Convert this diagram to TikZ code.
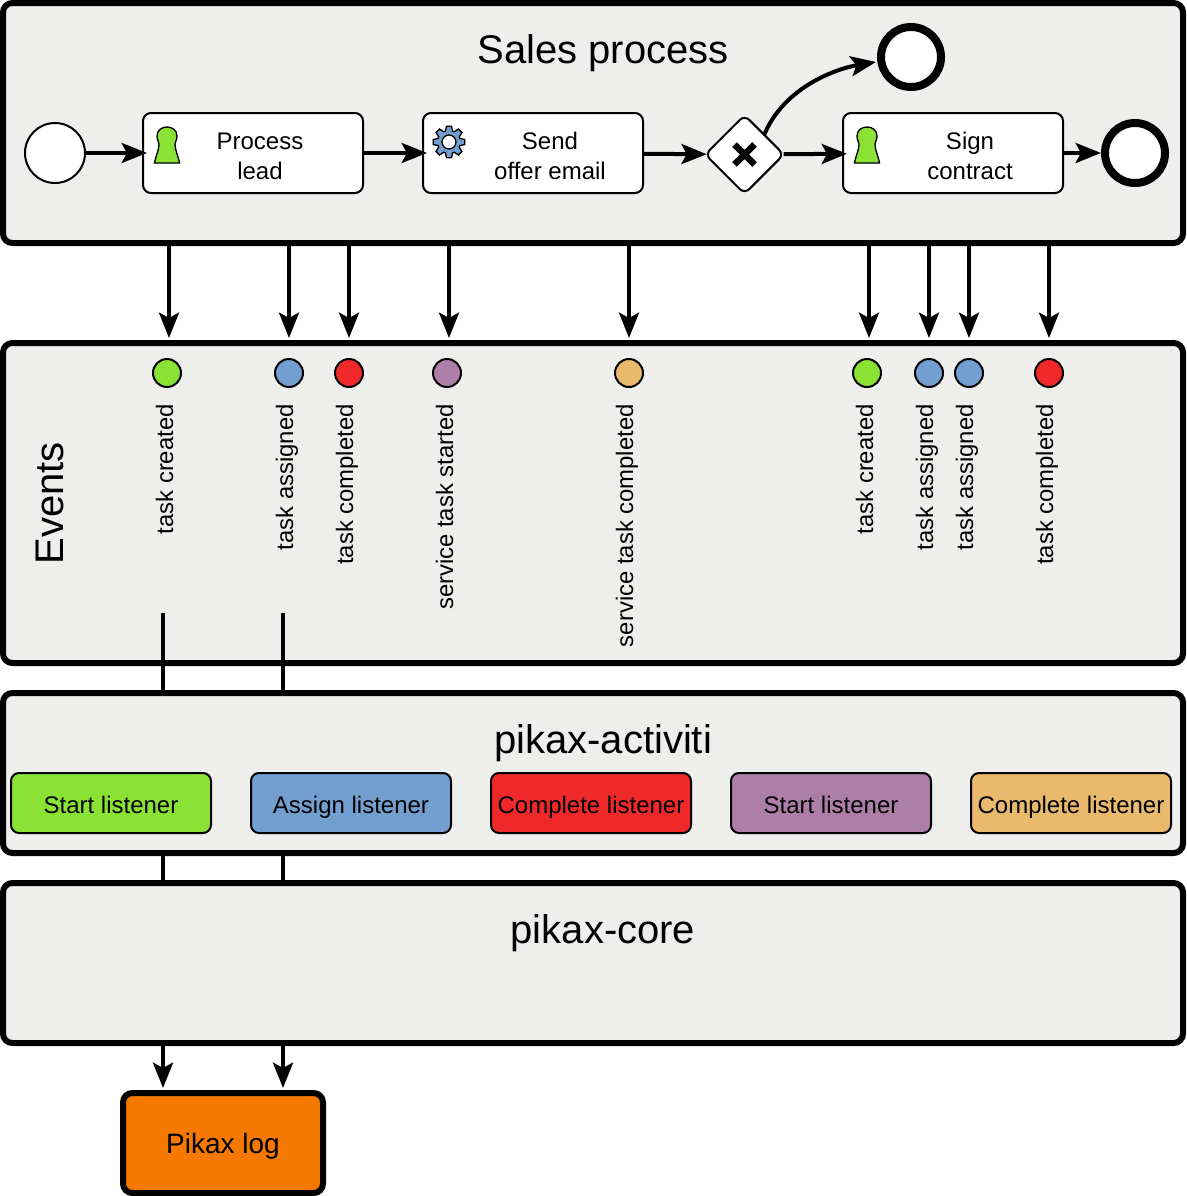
\documentclass[tikz,border=0pt]{standalone}
\usepackage{fontspec}
\setmainfont{Liberation Sans}
\usetikzlibrary{positioning}
\usetikzlibrary{arrows.meta}
\usetikzlibrary{shapes.geometric}

\definecolor{panelgrey}{HTML}{EEEEEC}
\definecolor{evgreen}{HTML}{8AE234}
\definecolor{evblue}{HTML}{729FCF}
\definecolor{evred}{HTML}{EF2929}
\definecolor{evpurple}{HTML}{AD7FA8}
\definecolor{evorange}{HTML}{E9B96E}
\definecolor{logorange}{HTML}{F57900}

\tikzset{
    panel/.style={draw=black, fill=panelgrey, line width=4.5pt, rounded corners=7pt,
        minimum width=885pt, inner sep=0pt},
    title/.style={font=\fontsize{30}{36}\selectfont, inner sep=0pt},
    tasknode/.style={draw=black, fill=white, line width=1.5pt, rounded corners=6pt,
        minimum width=165pt, minimum height=60pt, inner sep=0pt, outer sep=0pt},
    tasklabel/.style={align=center, font=\fontsize{18}{22.5}\selectfont, inner sep=0pt},
    startev/.style={circle, draw=black, fill=white, line width=1.5pt,
        minimum size=45pt, inner sep=0pt},
    endev/.style={circle, draw=black, fill=white, line width=6pt,
        minimum size=45pt, inner sep=0pt},
    gateway/.style={diamond, aspect=1, draw=black, fill=white, line width=1.5pt,
        rounded corners=5pt, minimum size=59pt, inner sep=0pt, outer sep=0pt},
    evdot/.style={circle, draw=black, line width=1.5pt, minimum size=21pt, inner sep=0pt},
    evlabel/.style={rotate=90, anchor=base east, font=\fontsize{17.9}{22}\selectfont, inner sep=0pt},
    listener/.style={draw=black, line width=1.5pt, rounded corners=6pt, minimum width=150pt,
        minimum height=45pt, inner sep=0pt, text height=16pt, text depth=1pt,
        font=\fontsize{18}{22}\selectfont},
    flow/.style={line width=3pt, -{Stealth[length=19pt, width=15pt, inset=4pt]}},
    wire/.style={line width=3pt},
    usericon/.pic={
        \draw[fill=evgreen, line width=1pt] (-12.5,36) .. controls (-11,28) and (-8,23) .. (-8,17)
            .. controls (-8,15) and (-10,13) .. (-10,9)
            .. controls (-10,3) and (-5,0) .. (0,0)
            .. controls (5,0) and (10,3) .. (10,9)
            .. controls (10,13) and (8,15) .. (8,17)
            .. controls (8,23) and (11,28) .. (12.5,36) -- cycle;
    },
    gearicon/.pic={
        \draw[fill=evblue, line width=1pt] (-18:11.5)
            \foreach \a in {0,45,...,315} { -- (\a-18:11.5) -- (\a-9:16) -- (\a+9:16) -- (\a+18:11.5) } -- cycle;
        \draw[fill=white, line width=1pt] (0,0) circle [radius=7];
    }
}

\begin{document}
\begin{tikzpicture}[x=0.75pt, y=-0.75pt]
    \useasboundingbox (0,0) rectangle (1186,1196);

    \node[panel, minimum height=180pt] (sales) at (593,123) {};
    \node[panel, minimum height=240pt] (events) at (593,503) {};
    \node[panel, minimum height=120pt] (activiti) at (593,773) {};
    \node[panel, minimum height=120pt] (core) at (593,963) {};

    \node[title] (salestitle) at (603,53) {Sales process};
    \node[title, rotate=90] (eventstitle) at (50,503.5) {Events};
    \node[title] (activititle) at (603,743) {pikax-activiti};
    \node[title] (coretitle) at (603,933) {pikax-core};

    \node[startev] (start) at (55,153) {};
    \node[tasknode] (lead) at (253,153) {};
    \node[tasklabel] (leadlabel) at (260,156) {Process\\lead};
    \node[tasknode] (offer) at (533,153) {};
    \node[tasklabel] (offerlabel) at (550,156) {Send\\offer email};
    \node[gateway] (gw) at (744.5,154.5) {};
    \node[tasknode] (sign) at (953,153) {};
    \node[tasklabel] (signlabel) at (970,156) {Sign\\contract};
    \node[endev] (endtop) at (911,57) {};
    \node[endev] (endright) at (1135,153) {};

    \pic at (167,127) {usericon};
    \pic at (449,142) {gearicon};
    \pic at (867,127) {usericon};
    \draw[line width=5pt] (gw) ++(-10,-10) -- ++(20,20) (gw) ++(10,-10) -- ++(-20,20);

    \draw[flow, shorten >=-3pt] (start) -- (lead);
    \draw[flow, shorten >=-3pt] (lead) -- (offer);
    \draw[flow, shorten >=-1pt] (offer) -- (gw);
    \draw[flow, shorten >=-3pt] (gw) -- (sign);
    \draw[flow] (sign) -- (endright);
    \draw[flow, shorten >=1pt] (gw.north east) .. controls (785,85) and (840,68) .. (endtop.188);

    \foreach \t/\x/\d/\c/\b/\txt in {
        1/169/167/evgreen/173/task created,
        2/289/289/evblue/293/task assigned,
        3/349/349/evred/353/task completed,
        4/449/447/evpurple/453/service task started,
        5/629/629/evorange/633/service task completed,
        6/869/867/evgreen/873/task created,
        7/929/929/evblue/933/task assigned,
        8/969/969/evblue/973/task assigned,
        9/1049/1049/evred/1053/task completed}
    {
        \coordinate (in\t) at (\x,338);
        \draw[flow, shorten >=0pt] (sales.south -| in\t) -- (in\t);
        \node[evdot, fill=\c] (dot\t) at (\d,373) {};
        \node[evlabel] (lab\t) at (\b,404) {\txt};
    }

    \foreach \t/\c/\x/\txt in {
        a/evgreen/111/Start listener,
        b/evblue/351/Assign listener,
        c/evred/591/Complete listener,
        d/evpurple/831/Start listener,
        e/evorange/1071/Complete listener}
    {
        \node[listener, fill=\c] (lis\t) at (\x,803) {\txt};
    }

    \node[draw=black, fill=logorange, line width=4.5pt, rounded corners=7pt, minimum width=150pt,
        minimum height=75pt, inner sep=0pt, text height=16pt, text depth=1pt,
        font=\fontsize{21}{25}\selectfont] (log) at (223,1143) {Pikax log};

    \foreach \t/\x in {1/163, 2/283}
    {
        \coordinate (out\t) at (\x,613);
        \draw[wire] (out\t) -- (out\t |- activiti.north);
        \draw[wire] (out\t |- activiti.south) -- (out\t |- core.north);
        \draw[flow, shorten >=1.5pt] (out\t |- core.south) -- (out\t |- log.north);
    }
\end{tikzpicture}
\end{document}
